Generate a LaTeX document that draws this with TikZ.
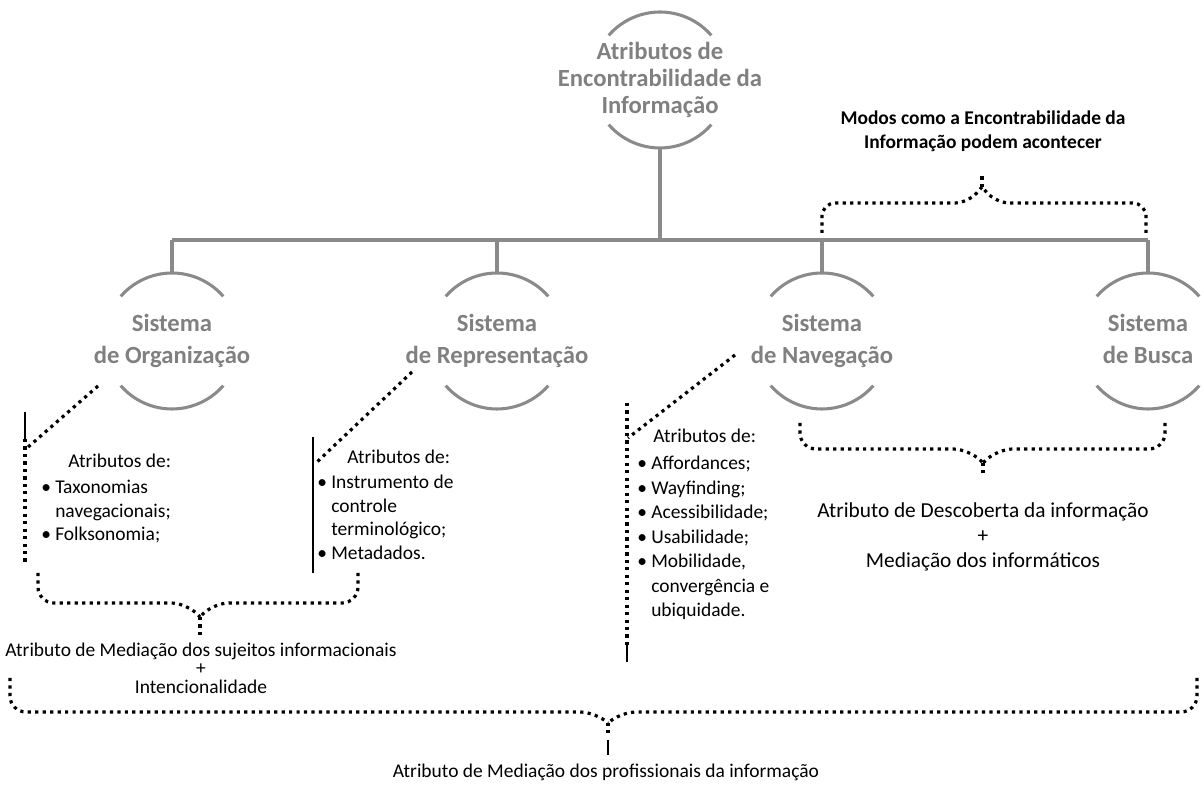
\documentclass[tikz,border=0pt]{standalone}
\usepackage{fontspec}
\setmainfont{Carlito}
\usepackage{tikz}
\usetikzlibrary{calc, positioning}
\definecolor{ringgray}{RGB}{138,138,138}
\definecolor{textgray}{RGB}{128,128,128}
\tikzset{
    ring/.style={draw=ringgray, line width=2.3pt},
    trunk/.style={draw=ringgray, line width=2.3pt},
    hub/.style={text=textgray, font=\bfseries\fontsize{18.5}{20.5}\selectfont, align=center, inner sep=0pt},
    sys/.style={text=textgray, font=\bfseries\fontsize{18.5}{24}\selectfont, align=center, inner sep=0pt},
    attr/.style={font=\fontsize{14.6}{17.6}\selectfont, align=left, inner sep=0pt, anchor=north west},
    result/.style={font=\fontsize{14.6}{18.75}\selectfont, align=center, inner sep=0pt},
    modes/.style={font=\bfseries\fontsize{14.6}{18}\selectfont, align=center, inner sep=0pt},
    dotline/.style={draw=black, line width=2.4pt, dash pattern=on 2.4pt off 3.2pt},
    solidline/.style={draw=black, line width=2.2pt}
}
\newcommand{\bul}{\makebox[10.5pt][l]{\textbullet}}
\newcommand{\nobul}{\hspace*{10.5pt}}

\begin{document}
\begin{tikzpicture}[x=0.75pt, y=0.75pt]
    \useasboundingbox (0,0) rectangle (1204,785);

    % Hub and systems
    \node[hub] (hub) at (660,705) {Atributos de\\Encontrabilidade da\\Informação};
    \node[sys] (org) at (172,444) {Sistema\\de Organização};
    \node[sys] (rep) at (497,444) {Sistema\\de Representação};
    \node[sys] (nav) at (822,444) {Sistema\\de Navegação};
    \node[sys] (busca) at (1148,444) {Sistema\\de Busca\vphantom{ç}};

    % Open rings
    \foreach \n in {hub,org,rep,nav,busca}{
        \draw[ring] ($(\n.center)+(41:51pt)$) arc[start angle=41, end angle=139, radius=51pt];
        \draw[ring] ($(\n.center)+(221:51pt)$) arc[start angle=221, end angle=319, radius=51pt];
    }

    % Trunk
    \coordinate (bar) at (660,545);
    \draw[trunk] ($(hub.center)+(0,-51pt)$) -- (bar);
    \draw[trunk] (org.center |- bar) -- (busca.center |- bar);
    \foreach \n in {org,rep,nav,busca}
        \draw[trunk] ($(\n.center)+(0,51pt)$) -- (\n.center |- bar);

    % Modes
    \node[modes] (modos) at (983,654) {Modos como a Encontrabilidade da\\Informação podem acontecer};
    \coordinate (mL) at (822,552);
    \coordinate (mR) at (1146,552);
    \coordinate (mTip) at (982,598);
    \coordinate (mTop) at (982,612);
    \draw[dotline, rounded corners=10pt] (mL) -- (822,582) -- (968,582) -- (mTip);
    \draw[dotline, rounded corners=10pt] (mR) -- (1146,582) -- (996,582) -- (mTip);
    \draw[dotline] (mTip) -- (mTop);

    % Organizacao
    \coordinate (orgA) at (98,399);
    \coordinate (orgB) at (27,337);
    \draw[dotline] (orgA) -- (orgB);
    \draw[solidline] (25,373) -- (25,346);
    \draw[dotline] (25,346) -- (25,223);
    \node[attr] (orghead) at (68,331) {Atributos de:};
    \node[attr] (orglist) at (41,305) {\bul Taxonomias\\\nobul navegacionais;\\\bul Folksonomia;};

    % Representacao
    \coordinate (repA) at (412,413);
    \coordinate (repB) at (317,323);
    \draw[dotline] (repA) -- (repB);
    \draw[solidline] (313,348) -- (313,212);
    \node[attr] (rephead) at (347,335) {Atributos de:};
    \node[attr] (replist) at (317,310) {\bul Instrumento de\\\nobul controle\\\nobul terminológico;\\\bul Metadados.};

    % Navegacao
    \coordinate (navA) at (735,430);
    \coordinate (navB) at (628,347);
    \draw[dotline] (navA) -- (navB);
    \draw[dotline] (627,382) -- (627,140);
    \draw[solidline] (627,140) -- (627,123);
    \node[attr] (navhead) at (653,356) {Atributos de:};
    \node[attr, font=\fontsize{14.6}{18.4}\selectfont] (navlist) at (637,329) {\bul Affordances;\\\bul Wayfinding;\\\bul Acessibilidade;\\\bul Usabilidade;\\\bul Mobilidade,\\\nobul convergência e\\\nobul ubiquidade.};

    % Mediacao dos sujeitos
    \coordinate (sL) at (38,212);
    \coordinate (sR) at (358,212);
    \coordinate (sTip) at (200,168);
    \coordinate (sEnd) at (200,148);
    \draw[dotline, rounded corners=12pt] (sL) -- (38,182) -- (187,182) -- (sTip);
    \draw[dotline, rounded corners=12pt] (sR) -- (358,182) -- (213,182) -- (sTip);
    \draw[dotline] (sTip) -- (sEnd);
    \node[result, font=\fontsize{14.6}{13.9}\selectfont] (sres) at (201,117) {Atributo de Mediação dos sujeitos informacionais\\+\\Intencionalidade};

    % Descoberta
    \coordinate (dL) at (800,362);
    \coordinate (dR) at (1165,362);
    \coordinate (dTip) at (983,322);
    \coordinate (dEnd) at (983,312);
    \draw[dotline, rounded corners=12pt] (dL) -- (800,336) -- (969,336) -- (dTip);
    \draw[dotline, rounded corners=12pt] (dR) -- (1165,336) -- (997,336) -- (dTip);
    \draw[dotline] (dTip) -- (dEnd);
    \node[result, font=\fontsize{16}{19}\selectfont] (dres) at (983,248) {Atributo de Descoberta da informação\\+\\Mediação dos informáticos};

    % Mediacao dos profissionais
    \coordinate (pL) at (10,107);
    \coordinate (pR) at (1197,107);
    \coordinate (pTip) at (608,62);
    \coordinate (pEnd) at (608,52);
    \draw[dotline, rounded corners=12pt] (pL) -- (10,73) -- (596,73) -- (pTip);
    \draw[dotline, rounded corners=12pt] (pR) -- (1197,73) -- (620,73) -- (pTip);
    \draw[dotline] (pTip) -- (pEnd);
    \draw[solidline] (608,45) -- (608,30);
    \node[result] (pres) at (606,13) {Atributo de Mediação dos profissionais da informação};
\end{tikzpicture}
\end{document}
